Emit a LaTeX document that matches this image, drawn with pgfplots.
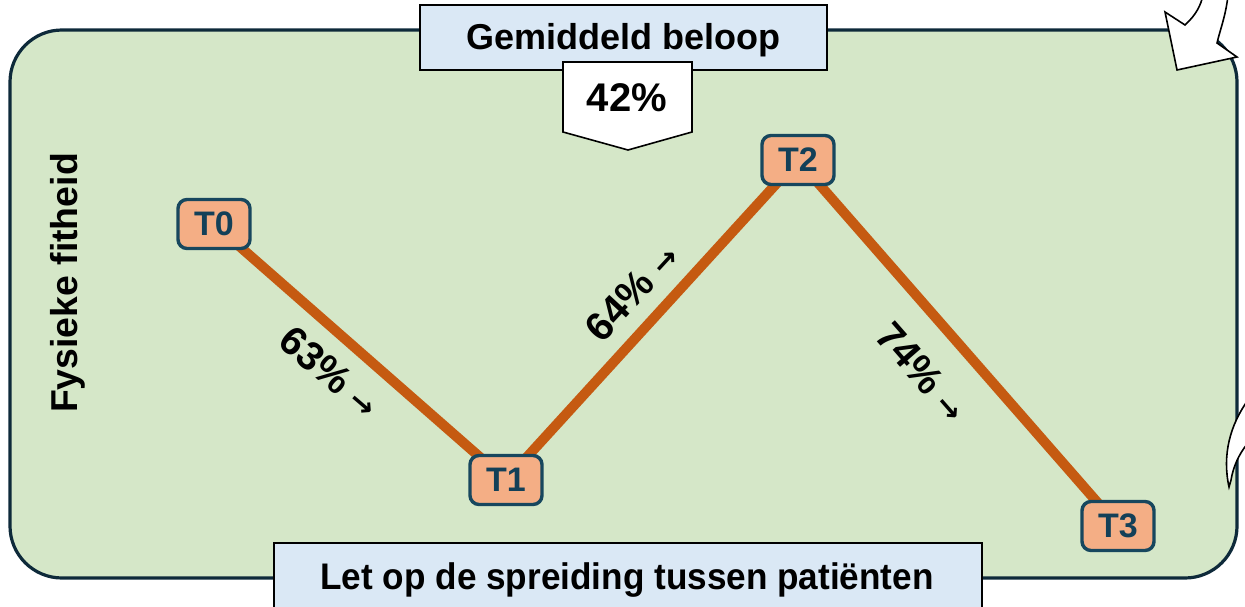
\documentclass[border=0pt]{standalone}
\usepackage{fontspec}
\setmainfont{Liberation Sans}
\newfontfamily\arrowfont{DejaVu Sans}
\newfontfamily\narrowfont[FakeStretch=0.95]{Liberation Sans}
\usepackage{pgfplots}
\pgfplotsset{compat=1.18}
\definecolor{gfill}{HTML}{D5E7C8}
\definecolor{gborder}{HTML}{0E2A3A}
\definecolor{bfill}{HTML}{DAE8F5}
\definecolor{lineorange}{HTML}{C55A11}
\definecolor{tfill}{HTML}{F4AE85}
\definecolor{tborder}{HTML}{17475E}
\definecolor{ttext}{HTML}{134058}
\newcommand{\arr}{{\arrowfont\bfseries\fontsize{15}{15}\selectfont →}}
\begin{document}
\begin{tikzpicture}
\path[use as bounding box] (0,0) rectangle (622.5pt,303pt);
\clip (0,0) rectangle (622.5pt,303pt);
\begin{axis}[at={(0,0)}, anchor=south west, scale only axis,
  width=622.5pt, height=303pt, xmin=0, xmax=1245, ymin=-606, ymax=0,
  hide axis, clip=false]
% background panel
\draw[draw=gborder, line width=1.6pt, fill=gfill, rounded corners=26pt] (10,-30) rectangle (1237,-578);
% curved arrows (decoration)
\draw[fill=white, draw=black, line width=0.8pt] (1165,-12) -- (1185,-25) .. controls (1196,-15) and (1201,-5) .. (1203,5) -- (1228,5) .. controls (1226,-15) and (1220,-30) .. (1217,-43) -- (1237,-57) -- (1177,-70) -- cycle;
\draw[fill=white, draw=black, line width=0.8pt] (1229,-487) .. controls (1222,-455) and (1230,-425) .. (1248,-400) -- (1248,-443) .. controls (1238,-455) and (1233,-468) .. (1231,-480) -- cycle;
% top title box
\draw[fill=bfill, draw=black, line width=0.8pt] (420,-5) rectangle (827,-70);
\node[font=\bfseries\fontsize{18}{18}\selectfont, anchor=base] at (623,-50) {Gemiddeld beloop};
\draw[fill=white, draw=black, line width=0.8pt] (563,-62) -- (692,-62) -- (692,-132) -- (628,-150) -- (563,-132) -- cycle;
\node[font=\bfseries\fontsize{20}{20}\selectfont, anchor=base] at (627,-112) {42\%};
% bottom box
\draw[fill=bfill, draw=black, line width=0.8pt] (274,-543) rectangle (982,-620);
\node[font=\narrowfont\bfseries\fontsize{18.5}{18.5}\selectfont, anchor=base] at (627,-589) {Let op de spreiding tussen patiënten};
% y label
\node[font=\bfseries\fontsize{18.7}{18.7}\selectfont, rotate=90] at (68,-283) {Fysieke fitheid};
% data line
\addplot[color=lineorange, line width=5pt] table {
x y
214 -224
506 -480
798 -160
1118 -526
};
% markers
\addplot[draw=none, mark=none, nodes near coords, point meta=explicit symbolic,
  every node near coord/.style={anchor=center, draw=tborder, fill=tfill, line width=1.7pt,
    rounded corners=4.5pt, minimum width=36pt, minimum height=24.5pt, inner sep=0pt,
    text=ttext, font=\bfseries\fontsize{17}{17}\selectfont}]
  table[meta=label] {
x y label
214 -224 T0
506 -480 T1
798 -160 T2
1118 -526 T3
};
% change labels
\node[rotate=-40.6, font=\bfseries\fontsize{20}{20}\selectfont] at (330,-372) {63\% \arr};
\node[rotate=47.3, font=\bfseries\fontsize{20}{20}\selectfont] at (632,-292) {64\% \arr};
\node[rotate=-48.9, font=\bfseries\fontsize{20}{20}\selectfont] at (922,-372) {74\% \arr};
\end{axis}
\end{tikzpicture}
\end{document}
